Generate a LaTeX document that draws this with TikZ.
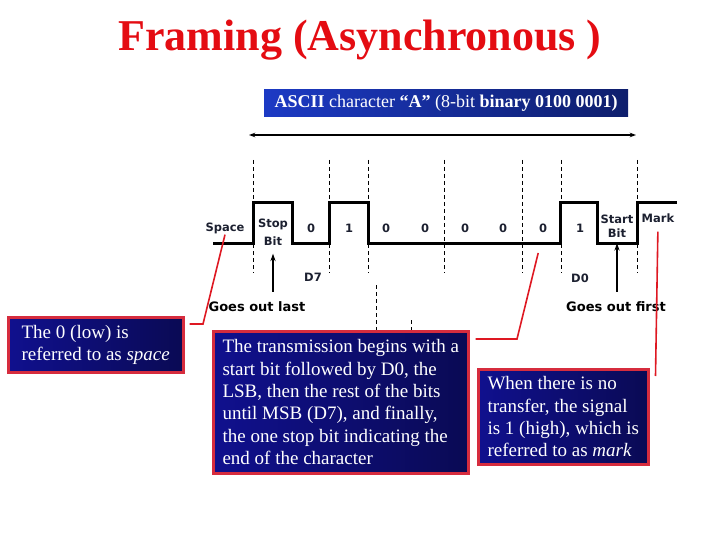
\documentclass[tikz,border=0pt]{standalone}
\usepackage{fontspec}
\setmainfont{Liberation Serif}
\newfontfamily\sigfont{DejaVu Sans}
\usetikzlibrary{arrows.meta,positioning,calc}
\definecolor{FRred}{RGB}{228,12,18}
\definecolor{FRline}{RGB}{222,24,34}
\definecolor{FRedge}{RGB}{214,44,62}
\definecolor{FRnavy}{RGB}{16,16,142}
\definecolor{FRnavydk}{RGB}{10,10,84}
\definecolor{FRblue}{RGB}{28,58,196}
\definecolor{FRbluedk}{RGB}{14,30,108}
\definecolor{FRink}{RGB}{28,32,48}
\tikzset{
  title/.style={font=\bfseries\fontsize{44}{50}\selectfont,text=FRred,inner sep=0pt},
  banner/.style={left color=FRblue,right color=FRbluedk,text=white,anchor=north west,
                 inner sep=0pt,font=\fontsize{18}{20}\selectfont},
  notebox/.style={draw=FRedge,line width=2.5pt,left color=FRnavy,right color=FRnavydk,
                  text=white,align=left,anchor=north west,inner sep=0pt,
                  font=\fontsize{19}{22.4}\selectfont},
  bitlbl/.style={font=\sigfont\bfseries\fontsize{11.5}{13.5}\selectfont,text=FRink,inner sep=1pt,align=center},
  outlbl/.style={font=\sigfont\bfseries\fontsize{13}{15}\selectfont,text=black,inner sep=1pt},
  signal/.style={line width=3pt,line join=miter},
  tick/.style={line width=0.8pt,dash pattern=on 4pt off 3pt},
  span/.style={{Stealth[length=2.2mm,width=1.6mm]}-{Stealth[length=2.2mm,width=1.6mm]},line width=1.1pt},
  uparr/.style={-{Stealth[length=2.6mm,width=1.8mm]},line width=1.4pt},
  callout/.style={draw=FRline,line width=1.6pt}
}
\begin{document}
\begin{tikzpicture}[x=1pt,y=-1pt]
  \useasboundingbox (0,0) rectangle (720,540);
  % title and character banner
  \node[title] (title) at (360,40) {Framing (Asynchronous )};
  \node[banner,minimum width=364pt,minimum height=27pt] (ascii) at (264,89)
    {\textbf{ASCII} character \textbf{“A”} (8-bit \textbf{binary 0100 0001)}};
  \coordinate (spanL) at (249,135);
  \coordinate (spanR) at (636,135);
  \draw[span] (spanL) -- (spanR);
  % bit boundaries
  \foreach \x in {253,329,368,444,522,561,637}
    \draw[tick] (\x,160) -- (\x,273);
  \draw[tick] (376,285) -- (376,330);
  \draw[tick] (411,320) -- (411,330);
  % the line
  \draw[signal] (213,243) -- (253,243) -- (253,203) -- (292,203) -- (292,243)
    -- (329,243) -- (329,203) -- (368,203) -- (368,243) -- (560,243)
    -- (560,203) -- (597,203) -- (597,243) -- (637,243) -- (637,203) -- (677,203);
  % bit labels
  \node[bitlbl] (space) at (225,228) {Space};
  \node[bitlbl] (stopbit) at (273,232) {Stop\\[5pt]Bit};
  \foreach \x/\v/\n in {311/0/b7,349/1/b6,386/0/b5,425/0/b4,465/0/b3,503/0/b2,543/0/b1,580/1/b0}
    \node[bitlbl] (\n) at (\x,228) {\v};
  \node[bitlbl] (startbit) at (617,226) {Start\\Bit};
  \node[bitlbl] (mark) at (658,218) {Mark};
  \node[bitlbl] (d7) at (313,277) {D7};
  \node[bitlbl] (d0) at (580,278) {D0};
  \node[outlbl] (last) at (257,307) {Goes out last};
  \node[outlbl] (first) at (616,307) {Goes out first};
  \draw[uparr,shorten <=9pt,shorten >=7pt] (last.north -| stopbit) -- (stopbit.south);
  \draw[uparr,shorten <=9pt,shorten >=5pt] (first.north -| startbit) -- (startbit.south);
  % notes
  \node[notebox,minimum width=175pt,minimum height=55pt] (spacebox) at (7,316)
    {The 0 (low) is\\referred to as \textit{space}};
  \node[notebox,minimum width=255pt,minimum height=142pt] (msgbox) at (212,330)
    {The transmission begins with a\\start bit followed by D0, the\\LSB, then the rest of the bits\\
     until MSB (D7), and finally,\\the one stop bit indicating the\\end of the character};
  \node[notebox,minimum width=170pt,minimum height=95pt] (markbox) at (477,368)
    {When there is no\\transfer, the signal\\is 1 (high), which is\\referred to as \textit{mark}};
  % callouts
  \draw[callout] (space.south) -- (203,324) -- ($(spacebox.north east)+(5,8)$);
  \draw[callout,shorten <=20pt] (b1.south) -- (517,339) -- ($(msgbox.north east)+(6,9)$);
  \draw[callout,shorten <=8pt] (mark.south) -- ($(markbox.north east)+(6,8)$);
\end{tikzpicture}
\end{document}
